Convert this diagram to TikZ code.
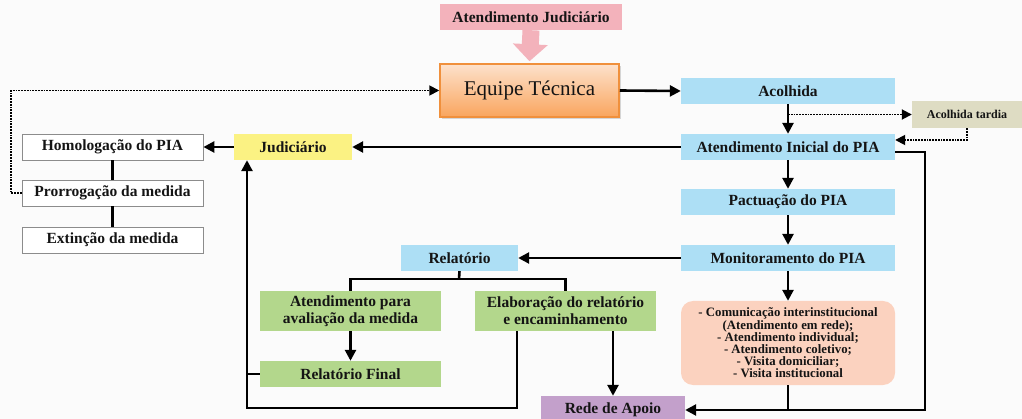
\documentclass[tikz,border=0pt]{standalone}
\usepackage{fontspec}
\setmainfont{Liberation Serif}
\usetikzlibrary{arrows.meta,shadows}
\definecolor{bgcol}{HTML}{FBFBFB}
\definecolor{pinkbox}{HTML}{F3B2BB}
\definecolor{equipetop}{HTML}{FDE1CB}
\definecolor{equipebot}{HTML}{F9A55E}
\definecolor{equipeedge}{HTML}{F0903C}
\definecolor{bluebox}{HTML}{ADDFF5}
\definecolor{yellowbox}{HTML}{FBF283}
\definecolor{beigebox}{HTML}{DEDCC3}
\definecolor{greenbox}{HTML}{B3D78C}
\definecolor{purplebox}{HTML}{C3A0CB}
\definecolor{salmonbox}{HTML}{FBD2BF}
\tikzstyle{box}=[inner sep=0pt, text=black!92, align=center, font=\bfseries\fontsize{15.5}{17}\selectfont]
\tikzstyle{wbox}=[box, fill=white, draw=black!45, line width=0.8pt, minimum width=181pt, minimum height=26pt]
\tikzstyle{bbox}=[box, fill=bluebox, minimum width=214pt, minimum height=26pt]
\tikzstyle{gbox}=[box, fill=greenbox, minimum width=181pt]
\tikzstyle{arr}=[line width=2.6pt, -{Triangle[length=11pt,width=11pt]}]
\tikzstyle{link}=[line width=2.6pt]
\tikzstyle{dots}=[line width=1.8pt, densely dotted, -{Triangle[length=10pt,width=10pt]}]

\begin{document}
\begin{tikzpicture}[x=1pt, y=-1pt]
\useasboundingbox (0,0) rectangle (1022,419);
\fill[bgcol] (0,0) rectangle (1022,419);
% Boxes
    \node[box, fill=pinkbox, minimum width=182pt, minimum height=26pt] (atjud) at (531,17) {Atendimento Judiciário};
    \node[box, top color=equipetop, bottom color=equipebot, draw=equipeedge, line width=1.5pt,
          drop shadow={opacity=0.3}, minimum width=179pt, minimum height=53pt,
          font=\fontsize{21}{24}\selectfont] (equipe) at (529.5,90.5) {Equipe Técnica};
    \node[bbox] (acolhida) at (788,91) {Acolhida};
    \node[box, fill=beigebox, minimum width=110pt, minimum height=27pt,
          font=\bfseries\fontsize{12}{14}\selectfont] (tardia) at (967,114.5) {Acolhida tardia};
    \node[bbox] (inicial) at (788,147) {Atendimento Inicial do PIA};
    \node[box, fill=yellowbox, minimum width=118pt, minimum height=26pt] (judic) at (293,147) {Judiciário};
    \node[wbox] (homol) at (112.5,147) {Homologação do PIA};
    \node[wbox] (prorrog) at (112.5,193) {Prorrogação da medida};
    \node[wbox] (extin) at (112.5,240) {Extinção da medida};
    \node[bbox] (pactu) at (788,202) {Pactuação do PIA};
    \node[bbox] (monit) at (788,258) {Monitoramento do PIA};
    \node[box, fill=bluebox, minimum width=117pt, minimum height=26pt] (relat) at (459.5,258) {Relatório};
    \node[gbox, minimum height=40pt] (avalia) at (350.5,311) {Atendimento para\\avaliação da medida};
    \node[gbox, minimum height=40pt] (elab) at (565.5,311) {Elaboração do relatório\\e encaminhamento};
    \node[gbox, minimum height=26pt] (final) at (350.5,374) {Relatório Final};
    \node[box, fill=purplebox, minimum width=144pt, minimum height=28pt] (rede) at (613,410) {Rede de Apoio};
    \node[box, fill=salmonbox, rounded corners=12pt, minimum width=214pt, minimum height=84pt,
          font=\bfseries\fontsize{12.8}{12.2}\selectfont] (acoes) at (788,343)
          {- Comunicação interinstitucional\\(Atendimento em rede);\\- Atendimento individual;\\- Atendimento coletivo;\\- Visita domiciliar;\\- Visita institucional};
% Coordinates
    \coordinate (rt) at (925,0);
    \coordinate (lb) at (247,408);
    \coordinate (bus) at (459,279);
    \coordinate (lt) at (11,0);
% Arrows
    \draw[pinkbox, line width=17pt, -{Triangle[length=17pt,width=34pt]}] (atjud.south) -- ([yshift=2pt]equipe.north);
    \draw[arr] (equipe.east) -- (acolhida.west);
    \draw[arr] (acolhida.south) -- (inicial.north);
    \draw[arr] (inicial.west) -- (judic.east);
    \draw[arr] (judic.west) -- (homol.east);
    \draw[link] (homol.south) -- (prorrog.north);
    \draw[link] (prorrog.south) -- (extin.north);
    \draw[arr] (inicial.south) -- (pactu.north);
    \draw[arr] (pactu.south) -- (monit.north);
    \draw[arr] (monit.west) -- (relat.east);
    \draw[arr] (monit.south) -- (acoes.north);
    \draw[arr] ([yshift=-5pt]inicial.east) -| (rt |- rede.east) -- (rede.east);
    \draw[link] (acoes.south) -- (acoes.south |- rede.east);
    \draw[link] (relat.south) -- (bus);
    \draw[link] (avalia.north) |- (bus) -| (elab.north);
    \draw[arr] (avalia.south) -- (final.north);
    \draw[link] (final.west) -- (lb |- final.west);
    \draw[arr] ([xshift=-48.5pt]elab.south) |- (lb) -- (lb |- judic.south);
    \draw[arr] (rede.north |- elab.south) -- (rede.north);
% Dotted paths
    \draw[dots] (acolhida.south |- tardia.west) -- (tardia.west);
    \draw[dots] (tardia.south) |- ([yshift=7pt]inicial.east);
    \draw[dots] (prorrog.west) -- (lt |- prorrog.west) |- (equipe.west);
\end{tikzpicture}
\end{document}
